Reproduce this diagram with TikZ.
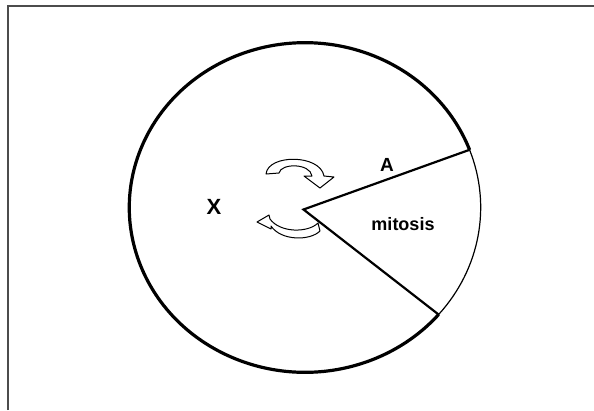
\documentclass[tikz,border=0pt]{standalone}
\usepackage{fontspec}
\setmainfont{Liberation Sans}
\usetikzlibrary{calc}
\begin{document}
\begin{tikzpicture}[x=1pt,y=1pt,
  thickarc/.style={line width=3.2pt,black},
  thinarc/.style={line width=1.2pt,black},
  radius line/.style={line width=2.2pt,black,line cap=round},
  framel/.style={line width=1.5pt,black!70},
  cyclearrow/.style={draw=black,fill=white,line width=1pt,line join=round},
  lbl/.style={inner sep=0pt,font=\bfseries}]
\useasboundingbox (0,0) rectangle (594,-410);
% frame
\draw[framel] (8,-410) -- (8,-6) -- (594,-6);
% ellipse centre and sector vertex
\coordinate (O) at (305,-207.5);
\coordinate (V) at (303.5,-209.5);
\coordinate (PA) at ($(O)+(20.5:175.7pt and 164.8pt)$);
\coordinate (PB) at ($(O)+(-40.5:175.7pt and 164.8pt)$);
% thick arc (interphase) and thin arc (mitosis)
\draw[thickarc] (PA) arc[start angle=20.5,end angle=319.5,x radius=175.7pt,y radius=164.8pt];
\draw[thinarc] (PB) arc[start angle=-40.5,end angle=20.5,x radius=175.7pt,y radius=164.8pt];
% radii
\draw[radius line] (PA) -- (V) -- (PB);
% labels
\node[lbl,font=\bfseries\fontsize{19}{19}\selectfont] (A) at (387,-165) {A};
\node[lbl,font=\bfseries\fontsize{18}{18}\selectfont] (mit) at (403,-224.5) {mitosis};
\node[lbl,font=\bfseries\fontsize{22}{22}\selectfont] (X) at (214,-207) {X};
% upper cycle arrow
\path[cyclearrow] (266,-174) .. controls (268,-154) and (320,-154) .. (324,-176)
  -- (334,-177) -- (320,-188) -- (304,-176) -- (312,-176)
  .. controls (310,-163) and (281,-163) .. (279,-173) -- cycle;
% lower cycle arrow
\path[cyclearrow] (257,-222) -- (269,-215) -- (270,-219)
  .. controls (280,-233) and (308,-233) .. (318,-223)
  -- (320,-231) .. controls (310,-241) and (281,-241) .. (271,-226)
  -- (271,-229) -- cycle;
\end{tikzpicture}
\end{document}
